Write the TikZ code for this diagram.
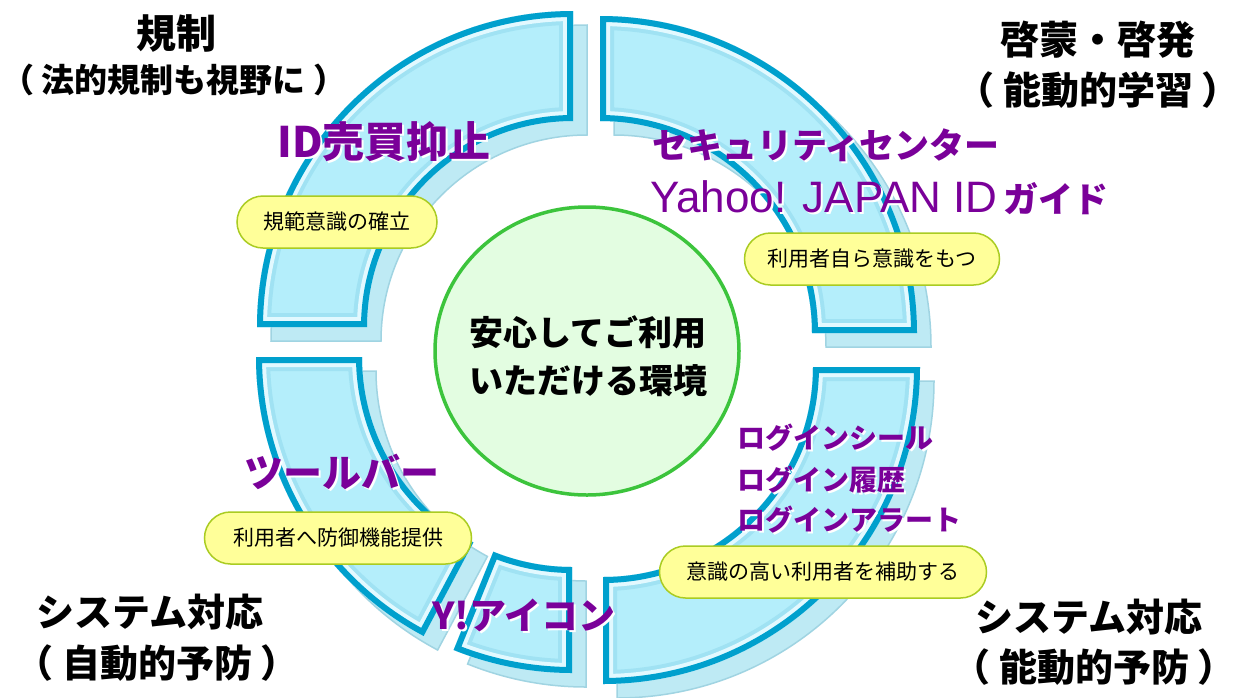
\documentclass[tikz,border=0pt]{standalone}
\usepackage{fontspec}
\setmainfont{Noto Sans CJK JP}
\newfontfamily\lat{Liberation Sans}
\definecolor{purp}{RGB}{122,0,153}
\definecolor{segfill}{RGB}{180,238,251}
\definecolor{segmid}{RGB}{160,226,243}
\definecolor{seglight}{RGB}{226,249,255}
\definecolor{segdark}{RGB}{0,160,205}
\definecolor{backfill}{RGB}{190,234,244}
\definecolor{backedge}{RGB}{160,212,226}
\definecolor{boxfill}{RGB}{255,255,153}
\definecolor{boxedge}{RGB}{170,204,34}
\definecolor{circfill}{RGB}{227,253,225}
\definecolor{circedge}{RGB}{60,196,60}
\newcommand\lp{（\hspace{0.22em}}
\newcommand\rp{\hspace{0.22em}）}
\newcommand\ringseg[6]{%
  \begin{scope}[shift={(#1+14,-#2-14)}]
    \path[fill=backfill,draw=backedge,line width=1.5] (#3:#5) arc[start angle=#3,end angle=#4,radius=#5] -- (#4:#6) arc[start angle=#4,end angle=#3,radius=#6] -- cycle;
  \end{scope}
  \begin{scope}[shift={(#1,-#2)}]
    \path[fill=segfill] (#3:#5) arc[start angle=#3,end angle=#4,radius=#5] -- (#4:#6) arc[start angle=#4,end angle=#3,radius=#6] -- cycle;
    \begin{scope}
      \clip (#3:#5) arc[start angle=#3,end angle=#4,radius=#5] -- (#4:#6) arc[start angle=#4,end angle=#3,radius=#6] -- cycle;
      \draw[line width=28,segmid] (#3:#5) arc[start angle=#3,end angle=#4,radius=#5] -- (#4:#6) arc[start angle=#4,end angle=#3,radius=#6] -- cycle;
      \draw[line width=20,seglight] (#3:#5) arc[start angle=#3,end angle=#4,radius=#5] -- (#4:#6) arc[start angle=#4,end angle=#3,radius=#6] -- cycle;
      \draw[line width=12,segdark] (#3:#5) arc[start angle=#3,end angle=#4,radius=#5] -- (#4:#6) arc[start angle=#4,end angle=#3,radius=#6] -- cycle;
    \end{scope}
  \end{scope}}
\tikzset{
  blk/.style={inner sep=0, text=black, font=\bfseries},
  labp/.style={inner sep=0, text=purp, font=\bfseries},
  labs/.style={inner sep=0, text=white, font=\bfseries, xshift=2, yshift=-2},
  ybox/.style={draw=boxedge, fill=boxfill, line width=1.5, rounded corners=26, minimum height=52, inner sep=0, font=\fontsize{21}{21}\selectfont},
  circ/.style={draw=circedge, fill=circfill, line width=3.5}
}
\begin{document}
\begin{tikzpicture}[x=1pt,y=1pt]
\useasboundingbox[fill=white] (0,0) rectangle (1237,-697);
% ring segments
\ringseg{573}{327}{90}{180}{316}{206}
\ringseg{600}{333}{0}{90}{317}{212}
\ringseg{603}{367}{270}{360}{317}{210}
\ringseg{572}{357}{180}{242}{316}{210}
\ringseg{572}{357}{248}{270}{316}{210}
% centre
\draw[circ] (587,-351) ellipse[x radius=152, y radius=144];
\node[blk, align=center, font=\bfseries\fontsize{34}{48}\selectfont] (centre) at (588,-356) {安心してご利用\\いただける環境};
% corner headings
\node[blk, font=\bfseries\fontsize{40}{40}\selectfont] (h1) at (176,-33) {規制};
\node[blk, font=\bfseries\fontsize{33}{33}\selectfont] (h1b) at (174,-80) {\lp 法的規制も視野に\rp};
\node[blk, font=\bfseries\fontsize{39}{39}\selectfont] (h2) at (1098,-40) {啓蒙・啓発};
\node[blk, font=\bfseries\fontsize{38}{38}\selectfont] (h2b) at (1098,-90) {\lp 能動的学習\rp};
\node[blk, font=\bfseries\fontsize{38}{38}\selectfont] (h3) at (150,-612) {システム対応};
\node[blk, font=\bfseries\fontsize{38}{38}\selectfont] (h3b) at (157,-663) {\lp 自動的予防\rp};
\node[blk, font=\bfseries\fontsize{38}{38}\selectfont] (h4) at (1089,-617) {システム対応};
\node[blk, font=\bfseries\fontsize{38}{38}\selectfont] (h4b) at (1094,-667) {\lp 能動的予防\rp};
% purple labels
\node[labs, font=\bfseries\fontsize{42}{42}\selectfont] (p1s) at (384,-142) {ID売買抑止};
\node[labp, font=\bfseries\fontsize{42}{42}\selectfont] (p1) at (384,-142) {ID売買抑止};
\node[labs, font=\bfseries\fontsize{35}{35}\selectfont] (p2s) at (826,-145) {セキュリティセンター};
\node[labp, font=\bfseries\fontsize{35}{35}\selectfont] (p2) at (826,-145) {セキュリティセンター};
\node[labs, anchor=base west] (p3s) at (650,-212) {{\lat\mdseries\fontsize{44}{44}\selectfont Yahoo! JAPAN ID}\hspace{6pt}{\fontsize{35}{35}\selectfont ガイド}};
\node[labp, anchor=base west] (p3) at (650,-212) {{\lat\mdseries\fontsize{44}{44}\selectfont Yahoo! JAPAN ID}\hspace{6pt}{\fontsize{35}{35}\selectfont ガイド}};
\node[labs, font=\bfseries\fontsize{39}{39}\selectfont] (p4s) at (342,-472) {ツールバー};
\node[labp, font=\bfseries\fontsize{39}{39}\selectfont] (p4) at (342,-472) {ツールバー};
\node[labs, font=\bfseries\fontsize{37}{37}\selectfont] (p5s) at (524,-615) {Y!アイコン};
\node[labp, font=\bfseries\fontsize{37}{37}\selectfont] (p5) at (524,-615) {Y!アイコン};
\node[labs, anchor=west, font=\bfseries\fontsize{28}{28}\selectfont] (p6s) at (737,-438) {ログインシール};
\node[labp, anchor=west, font=\bfseries\fontsize{28}{28}\selectfont] (p6) at (737,-438) {ログインシール};
\node[labs, anchor=west, font=\bfseries\fontsize{28}{28}\selectfont] (p7s) at (737,-480) {ログイン履歴};
\node[labp, anchor=west, font=\bfseries\fontsize{28}{28}\selectfont] (p7) at (737,-480) {ログイン履歴};
\node[labs, anchor=west, font=\bfseries\fontsize{28}{28}\selectfont] (p8s) at (737,-520) {ログインアラート};
\node[labp, anchor=west, font=\bfseries\fontsize{28}{28}\selectfont] (p8) at (737,-520) {ログインアラート};
% yellow boxes
\node[ybox, minimum width=200] (b1) at (337,-222) {規範意識の確立};
\node[ybox, minimum width=255] (b2) at (872,-259) {利用者自ら意識をもつ};
\node[ybox, minimum width=267] (b3) at (338,-538) {利用者へ防御機能提供};
\node[ybox, minimum width=327] (b4) at (823,-572) {意識の高い利用者を補助する};
\end{tikzpicture}
\end{document}
